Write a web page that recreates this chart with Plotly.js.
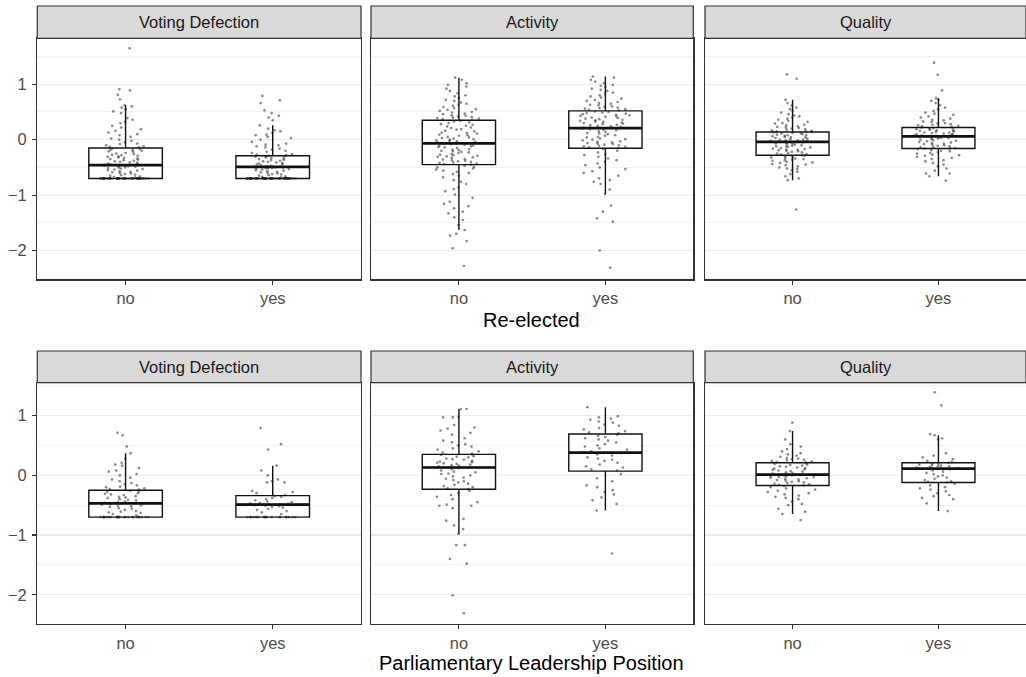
<!DOCTYPE html>
<html>
<head>
<meta charset="utf-8">
<script src="https://cdn.plot.ly/plotly-3.0.1.min.js"></script>
<style>html,body{margin:0;padding:0;background:#fff;}#chart{width:1026px;height:677px;}</style>
</head>
<body>
<div id="chart"></div>
<script>
// ---------------- data ----------------
const groups = ['no', 'yes'];
const facetTitles = ['Voting Defection', 'Activity', 'Quality'];
const rowTitles = ['Re-elected', 'Parliamentary Leadership Position'];

// box stats: [lower whisker, q1, median, q3, upper whisker]
const boxVdReNo   = [-0.70, -0.70, -0.46, -0.15, 0.62];
const boxVdReYes  = [-0.70, -0.70, -0.49, -0.29, 0.26];
const boxActReNo  = [-1.63, -0.45, -0.065, 0.35, 1.12];
const boxActReYes = [-0.98, -0.155, 0.21, 0.52, 1.14];
const boxQuaReNo  = [-0.73, -0.28, -0.04, 0.14, 0.72];
const boxQuaReYes = [-0.66, -0.16, 0.06, 0.22, 0.75];
const boxVdLdNo   = [-0.70, -0.70, -0.47, -0.25, 0.37];
const boxVdLdYes  = [-0.70, -0.70, -0.49, -0.34, 0.16];
const boxActLdNo  = [-0.98, -0.235, 0.13, 0.35, 1.11];
const boxActLdYes = [-0.59, 0.07, 0.38, 0.69, 1.14];
const boxQuaLdNo  = [-0.65, -0.17, 0.01, 0.21, 0.74];
const boxQuaLdYes = [-0.60, -0.12, 0.11, 0.21, 0.67];

// individual observations (read from the jittered points)
const ptsVdReNo = [1.65,0.91,0.89,0.81,0.73,0.62,0.60,0.58,0.55,0.51,0.48,0.39,0.36,0.32,0.30,0.25,0.22,0.19,0.16,0.13,0.10,0.08,0.05,0.02,0.00,-0.02,-0.05,-0.07,-0.08,-0.10,-0.12,-0.13,-0.14,
 -0.16,-0.17,-0.18,-0.19,-0.20,-0.21,-0.22,-0.24,-0.25,-0.26,-0.27,-0.28,-0.29,-0.30,-0.31,-0.32,-0.33,-0.34,-0.35,-0.36,-0.37,-0.38,-0.39,-0.40,-0.41,-0.42,-0.43,-0.44,-0.45,-0.45,-0.46,-0.46,-0.46,-0.47,-0.47,
 -0.48,-0.48,-0.49,-0.50,-0.50,-0.51,-0.52,-0.53,-0.54,-0.55,-0.56,-0.57,-0.58,-0.59,-0.60,-0.61,-0.62,-0.63,-0.64,-0.65,-0.66,-0.67,-0.68,
 -0.70,-0.70,-0.70,-0.70,-0.70,-0.70,-0.70,-0.70,-0.70,-0.70,-0.70,-0.70,-0.70,-0.70,-0.70,-0.70,-0.70,-0.70,-0.70,-0.70,
 -0.70,-0.70,-0.70,-0.70,-0.70,-0.70,-0.70,-0.70,-0.70,-0.70,-0.70,-0.70,-0.70,-0.70,-0.70,-0.70,-0.70,-0.70,-0.70,-0.70];
const ptsVdReYes = [0.79,0.71,0.66,0.53,0.48,0.43,0.40,0.35,0.26,0.20,0.17,0.15,0.12,0.09,0.08,0.05,0.03,0.00,-0.04,-0.07,-0.09,-0.10,-0.12,-0.14,-0.16,-0.18,-0.20,-0.22,-0.24,-0.26,-0.27,-0.28,
 -0.29,-0.30,-0.30,-0.31,-0.32,-0.33,-0.34,-0.35,-0.36,-0.37,-0.38,-0.39,-0.40,-0.41,-0.42,-0.43,-0.44,-0.45,-0.46,-0.47,-0.48,-0.48,-0.49,-0.49,-0.49,-0.50,-0.50,
 -0.51,-0.51,-0.52,-0.52,-0.53,-0.54,-0.55,-0.56,-0.57,-0.58,-0.59,-0.60,-0.61,-0.62,-0.63,-0.64,-0.65,-0.66,-0.67,-0.68,
 -0.70,-0.70,-0.70,-0.70,-0.70,-0.70,-0.70,-0.70,-0.70,-0.70,-0.70,-0.70,-0.70,-0.70,-0.70,-0.70,-0.70,-0.70,-0.70,-0.70,-0.70,-0.70,
 -0.70,-0.70,-0.70,-0.70,-0.70,-0.70,-0.70,-0.70,-0.70,-0.70,-0.70,-0.70,-0.70,-0.70,-0.70,-0.70,-0.70,-0.70,-0.70,-0.70,-0.70,-0.70,-0.70];
const ptsActReNo = [1.12,1.08,1.02,0.99,0.96,0.92,0.88,0.84,0.80,0.78,0.75,0.72,0.70,0.67,0.65,0.63,0.61,0.59,0.57,0.55,0.54,0.52,0.50,0.49,0.47,0.46,0.44,0.43,0.42,0.41,0.40,0.39,0.38,0.37,0.36,
 0.34,0.33,0.31,0.30,0.28,0.27,0.25,0.24,0.22,0.21,0.19,0.18,0.16,0.15,0.13,0.12,0.11,0.09,0.08,0.07,0.05,0.04,0.03,0.02,0.01,0.00,-0.01,-0.02,-0.03,-0.04,-0.05,-0.06,-0.06,-0.07,-0.07,
 -0.08,-0.09,-0.10,-0.11,-0.12,-0.13,-0.14,-0.15,-0.17,-0.18,-0.19,-0.20,-0.21,-0.22,-0.23,-0.24,-0.26,-0.27,-0.28,-0.29,-0.30,-0.31,-0.32,-0.33,-0.35,-0.36,-0.37,-0.38,-0.39,-0.40,-0.41,-0.42,-0.43,-0.44,-0.45,
 -0.47,-0.49,-0.50,-0.52,-0.54,-0.56,-0.58,-0.60,-0.62,-0.65,-0.68,-0.73,-0.76,-0.80,-0.86,-0.89,-0.93,-0.99,-1.05,-1.12,-1.16,-1.20,-1.24,-1.30,-1.33,-1.40,-1.45,-1.54,-1.63,-1.70,-1.73,-1.83,-1.96,-2.28];
const ptsActReYes = [1.14,1.12,1.08,1.05,1.02,0.99,0.97,0.95,0.92,0.90,0.88,0.85,0.83,0.80,0.78,0.76,0.74,0.72,0.70,0.68,0.66,0.65,0.63,0.62,0.60,0.59,0.58,0.57,0.56,0.55,0.54,0.53,
 0.51,0.50,0.49,0.48,0.47,0.46,0.45,0.44,0.43,0.42,0.41,0.40,0.39,0.38,0.37,0.36,0.35,0.34,0.33,0.32,0.31,0.30,0.29,0.28,0.27,0.26,0.25,0.24,0.23,0.22,0.21,
 0.20,0.19,0.18,0.17,0.15,0.14,0.12,0.11,0.10,0.08,0.07,0.05,0.04,0.02,0.01,0.00,-0.01,-0.03,-0.04,-0.05,-0.06,-0.07,-0.08,-0.09,-0.10,-0.11,-0.12,-0.13,-0.14,-0.15,
 -0.17,-0.20,-0.23,-0.26,-0.28,-0.31,-0.34,-0.37,-0.40,-0.43,-0.46,-0.50,-0.53,-0.57,-0.60,-0.65,-0.70,-0.73,-0.76,-0.80,-0.90,-0.98,-1.19,-1.30,-1.42,-1.48,-2.00,-2.31];
const ptsQuaReNo = [1.18,1.10,0.72,0.66,0.62,0.58,0.55,0.52,0.49,0.46,0.44,0.42,0.40,0.38,0.36,0.34,0.32,0.30,0.29,0.27,0.26,0.24,0.23,0.22,0.21,0.20,0.19,0.18,0.17,0.16,0.15,0.15,
 0.14,0.13,0.12,0.12,0.11,0.10,0.09,0.08,0.08,0.07,0.06,0.05,0.04,0.04,0.03,0.02,0.01,0.00,0.00,-0.01,-0.01,-0.02,-0.02,-0.03,-0.03,-0.04,-0.04,
 -0.05,-0.06,-0.07,-0.07,-0.08,-0.09,-0.10,-0.11,-0.12,-0.12,-0.13,-0.14,-0.15,-0.16,-0.17,-0.18,-0.18,-0.19,-0.20,-0.21,-0.22,-0.23,-0.24,-0.25,-0.26,-0.27,-0.28,
 -0.29,-0.30,-0.31,-0.32,-0.33,-0.34,-0.35,-0.36,-0.37,-0.38,-0.40,-0.41,-0.42,-0.44,-0.45,-0.46,-0.48,-0.50,-0.52,-0.53,-0.55,-0.58,-0.62,-0.66,-0.70,-0.73,-1.26];
const ptsQuaReYes = [1.39,1.17,0.89,0.75,0.72,0.70,0.66,0.62,0.58,0.55,0.52,0.49,0.47,0.45,0.42,0.40,0.38,0.36,0.35,0.33,0.32,0.30,0.29,0.28,0.27,0.26,0.25,0.24,0.23,
 0.22,0.21,0.20,0.20,0.19,0.18,0.17,0.16,0.16,0.15,0.14,0.13,0.13,0.12,0.11,0.10,0.10,0.09,0.08,0.08,0.07,0.07,0.06,0.06,
 0.05,0.04,0.03,0.03,0.02,0.01,0.00,-0.01,-0.02,-0.03,-0.04,-0.05,-0.06,-0.07,-0.08,-0.09,-0.10,-0.11,-0.12,-0.13,-0.14,-0.15,-0.16,-0.16,
 -0.17,-0.19,-0.20,-0.21,-0.23,-0.24,-0.25,-0.27,-0.28,-0.29,-0.31,-0.33,-0.35,-0.37,-0.39,-0.42,-0.45,-0.48,-0.52,-0.56,-0.61,-0.61,-0.66,-0.74];
const ptsVdLdNo = [0.71,0.67,0.48,0.37,0.28,0.21,0.18,0.16,0.12,0.08,0.06,0.02,0.00,-0.04,-0.07,-0.10,-0.13,-0.15,-0.17,-0.19,-0.20,-0.22,-0.23,-0.24,
 -0.26,-0.27,-0.28,-0.30,-0.31,-0.32,-0.33,-0.35,-0.36,-0.37,-0.38,-0.40,-0.41,-0.42,-0.44,-0.45,-0.46,-0.47,-0.47,-0.48,-0.49,
 -0.50,-0.51,-0.52,-0.53,-0.55,-0.56,-0.58,-0.60,-0.61,-0.62,-0.63,-0.65,-0.67,
 -0.70,-0.70,-0.70,-0.70,-0.70,-0.70,-0.70,-0.70,-0.70,-0.70,-0.70,-0.70,-0.70,-0.70,-0.70,-0.70,-0.70,-0.70,-0.70,-0.70,-0.70,-0.70,-0.70,-0.70];
const ptsVdLdYes = [0.79,0.52,0.43,0.16,0.08,0.00,-0.07,-0.10,-0.12,-0.12,-0.26,-0.28,-0.30,-0.33,
 -0.35,-0.36,-0.38,-0.40,-0.42,-0.44,-0.45,-0.46,-0.47,-0.48,-0.49,-0.49,-0.50,
 -0.51,-0.52,-0.53,-0.54,-0.56,-0.58,-0.60,-0.62,-0.65,
 -0.70,-0.70,-0.70,-0.70,-0.70,-0.70,-0.70,-0.70,-0.70,-0.70,-0.70,-0.70,-0.70,-0.70,-0.70,-0.70,-0.70,-0.70];
const ptsActLdNo = [1.11,1.11,0.98,0.97,0.97,0.84,0.80,0.78,0.75,0.71,0.68,0.62,0.58,0.55,0.52,0.50,0.48,0.45,0.43,0.40,0.38,0.36,
 0.35,0.34,0.32,0.31,0.30,0.28,0.27,0.26,0.24,0.23,0.22,0.21,0.20,0.19,0.18,0.17,0.16,0.15,0.14,0.13,0.13,
 0.12,0.10,0.08,0.06,0.05,0.03,0.02,0.00,-0.02,-0.04,-0.06,-0.08,-0.10,-0.12,-0.14,-0.16,-0.18,-0.20,-0.22,-0.23,
 -0.26,-0.30,-0.33,-0.36,-0.40,-0.45,-0.49,-0.51,-0.51,-0.55,-0.73,-0.76,-0.84,-0.90,-0.98,-1.17,-1.17,-1.40,-1.48,-2.01,-2.31];
const ptsActLdYes = [1.14,0.99,0.97,0.95,0.93,0.90,0.88,0.85,0.83,0.79,0.77,0.74,0.72,0.70,
 0.68,0.66,0.64,0.62,0.60,0.58,0.55,0.52,0.50,0.48,0.45,0.43,0.40,0.39,
 0.37,0.35,0.33,0.30,0.28,0.26,0.24,0.21,0.18,0.15,0.13,0.10,0.08,
 0.02,-0.05,-0.10,-0.17,-0.20,-0.25,-0.28,-0.32,-0.37,-0.42,-0.48,-0.59,-1.31];
const ptsQuaLdNo = [0.88,0.74,0.60,0.52,0.48,0.44,0.40,0.37,0.35,0.33,0.31,0.29,0.28,0.27,0.26,0.25,0.24,0.23,0.22,0.22,
 0.20,0.19,0.18,0.17,0.16,0.15,0.14,0.13,0.12,0.11,0.10,0.09,0.08,0.07,0.06,0.05,0.04,0.03,0.02,0.01,0.01,
 0.00,0.00,-0.01,-0.02,-0.03,-0.03,-0.04,-0.05,-0.06,-0.07,-0.08,-0.09,-0.10,-0.11,-0.12,-0.13,-0.14,-0.15,-0.16,-0.17,
 -0.18,-0.20,-0.22,-0.24,-0.26,-0.28,-0.30,-0.32,-0.34,-0.36,-0.38,-0.40,-0.44,-0.48,-0.50,-0.56,-0.61,-0.65,-0.75];
const ptsQuaLdYes = [1.39,1.17,0.69,0.67,0.62,0.60,0.37,0.33,0.30,0.27,0.24,0.22,
 0.21,0.20,0.19,0.18,0.17,0.16,0.15,0.15,0.14,0.13,0.12,0.12,0.11,0.11,
 0.10,0.08,0.06,0.04,0.02,0.00,-0.02,-0.04,-0.06,-0.08,-0.10,-0.11,-0.12,
 -0.14,-0.17,-0.20,-0.22,-0.24,-0.27,-0.30,-0.33,-0.35,-0.38,-0.40,-0.47,-0.60];

// ---------------- build ----------------
const panels = [
  [boxVdReNo, boxVdReYes, ptsVdReNo, ptsVdReYes],
  [boxActReNo, boxActReYes, ptsActReNo, ptsActReYes],
  [boxQuaReNo, boxQuaReYes, ptsQuaReNo, ptsQuaReYes],
  [boxVdLdNo, boxVdLdYes, ptsVdLdNo, ptsVdLdYes],
  [boxActLdNo, boxActLdYes, ptsActLdNo, ptsActLdYes],
  [boxQuaLdNo, boxQuaLdYes, ptsQuaLdNo, ptsQuaLdYes]
];

// Plotly scales box-point jitter by local density; splitting the points of one
// group into density bands keeps the library's jitter close to uniform width.
function jitterBands(pts, box) {
  const minV = Math.min(...pts);
  const ties = pts.filter(v => v === minV);
  const useTies = ties.length >= 5;
  const rest = useTies ? pts.filter(v => v !== minV) : pts.slice();
  const bands = [
    useTies ? ties : [],
    rest.filter(v => v < box[1]),
    rest.filter(v => v >= box[1] && v <= box[3]),
    rest.filter(v => v > box[3])
  ];
  return bands.filter(b => b.length);
}

const W = 1026, H = 677;
const colPx = [[37.3, 361], [371, 693.3], [705, 1026]];
const rowPx = [[38.3, 279.3], [382.7, 624]];
const stripPx = [[6, 38.3], [351, 382.7]];
const yRanges = [[-2.52, 1.83], [-2.49, 1.55]];

const FONT = 'Liberation Sans, Arial, Helvetica, sans-serif';
const traces = [];
const layout = {
  width: W, height: H,
  margin: {l: 0, r: 0, t: 0, b: 0},
  paper_bgcolor: '#fff', plot_bgcolor: '#fff',
  showlegend: false, boxmode: 'overlay',
  font: {family: FONT, color: '#4D4D4D'},
  shapes: [], annotations: []
};

panels.forEach((p, i) => {
  const row = Math.floor(i / 3), col = i % 3;
  const n = i + 1;
  const xa = n === 1 ? 'x' : 'x' + n, ya = n === 1 ? 'y' : 'y' + n;
  const boxes = [p[0], p[1]];
  traces.push({
    type: 'box', xaxis: xa, yaxis: ya, x: groups,
    lowerfence: boxes.map(b => b[0]), q1: boxes.map(b => b[1]), median: boxes.map(b => b[2]),
    q3: boxes.map(b => b[3]), upperfence: boxes.map(b => b[4]),
    width: 0.5, whiskerwidth: 0, boxpoints: false,
    fillcolor: '#ffffff', line: {color: '#111111', width: 1.4}, hoverinfo: 'skip'
  });
  // thick median bar
  traces.push({
    type: 'box', xaxis: xa, yaxis: ya, x: groups,
    lowerfence: boxes.map(b => b[2]), q1: boxes.map(b => b[2]), median: boxes.map(b => b[2]),
    q3: boxes.map(b => b[2]), upperfence: boxes.map(b => b[2]),
    width: 0.5, whiskerwidth: 0, boxpoints: false,
    fillcolor: 'rgba(0,0,0,0)', line: {color: '#111111', width: 2.7}, hoverinfo: 'skip'
  });
  [p[2], p[3]].forEach((pts, g) => {
    jitterBands(pts, boxes[g]).forEach(band => {
      traces.push({
        type: 'box', xaxis: xa, yaxis: ya, x: band.map(() => groups[g]), y: band,
        boxpoints: 'all', jitter: 0.7, pointpos: 0, width: 0.5, whiskerwidth: 0,
        fillcolor: 'rgba(0,0,0,0)', line: {color: 'rgba(0,0,0,0)', width: 0},
        marker: {size: 2.7, color: 'rgba(25,25,25,0.5)', line: {width: 0}}, hoverinfo: 'skip'
      });
    });
  });

  const xd = [colPx[col][0] / W, Math.min(1, colPx[col][1] / W)];
  const yd = [1 - rowPx[row][1] / H, 1 - rowPx[row][0] / H];
  layout['xaxis' + (n === 1 ? '' : n)] = {
    domain: xd, anchor: ya, type: 'category', categoryarray: groups, categoryorder: 'array',
    range: [-0.6, 1.6], showgrid: false, zeroline: false,
    showline: true, mirror: true, linecolor: '#333333', linewidth: 1.2,
    ticks: 'outside', ticklen: 4, tickcolor: '#333333', tickwidth: 1.1,
    tickfont: {size: 16.5, color: '#4D4D4D', family: FONT}, fixedrange: true
  };
  layout['yaxis' + (n === 1 ? '' : n)] = {
    domain: yd, anchor: xa, range: yRanges[row], zeroline: false,
    tickvals: [-2, -1, 0, 1], ticktext: ['\u22122', '\u22121', '0', '1'],
    showgrid: true, gridcolor: '#EBEBEB', gridwidth: 1.1,
    minor: {tickvals: [-2.5, -1.5, -0.5, 0.5, 1.5], showgrid: true, gridcolor: '#EFEFEF', gridwidth: 0.9, ticks: ''},
    showline: true, mirror: true, linecolor: '#333333', linewidth: 1.2,
    showticklabels: col === 0, ticks: col === 0 ? 'outside' : '', ticklen: 4, tickcolor: '#333333', tickwidth: 1.1,
    ticklabelstandoff: 2,
    tickfont: {size: 16.5, color: '#4D4D4D', family: FONT}, fixedrange: true
  };
  // strip
  layout.shapes.push({
    type: 'rect', xref: 'paper', yref: 'paper',
    x0: xd[0], x1: xd[1], y0: 1 - stripPx[row][1] / H, y1: 1 - stripPx[row][0] / H,
    fillcolor: '#D9D9D9', line: {color: '#333333', width: 1.2}, layer: 'above'
  });
  layout.annotations.push({
    xref: 'paper', yref: 'paper', x: (xd[0] + xd[1]) / 2, y: 1 - (stripPx[row][0] + stripPx[row][1]) / 2 / H,
    text: facetTitles[col], showarrow: false, xanchor: 'center', yanchor: 'middle',
    font: {size: 16.5, color: '#1A1A1A', family: FONT}
  });
});

// row axis titles
[[320, 0], [663, 1]].forEach(([yPx, r]) => {
  layout.annotations.push({
    xref: 'paper', yref: 'paper', x: (37.3 + 1026) / 2 / W, y: 1 - yPx / H,
    text: rowTitles[r], showarrow: false, xanchor: 'center', yanchor: 'middle',
    font: {size: 20, color: '#000000', family: FONT}
  });
});

Plotly.newPlot('chart', traces, layout, {displayModeBar: false, staticPlot: true});
</script>
</body>
</html>
